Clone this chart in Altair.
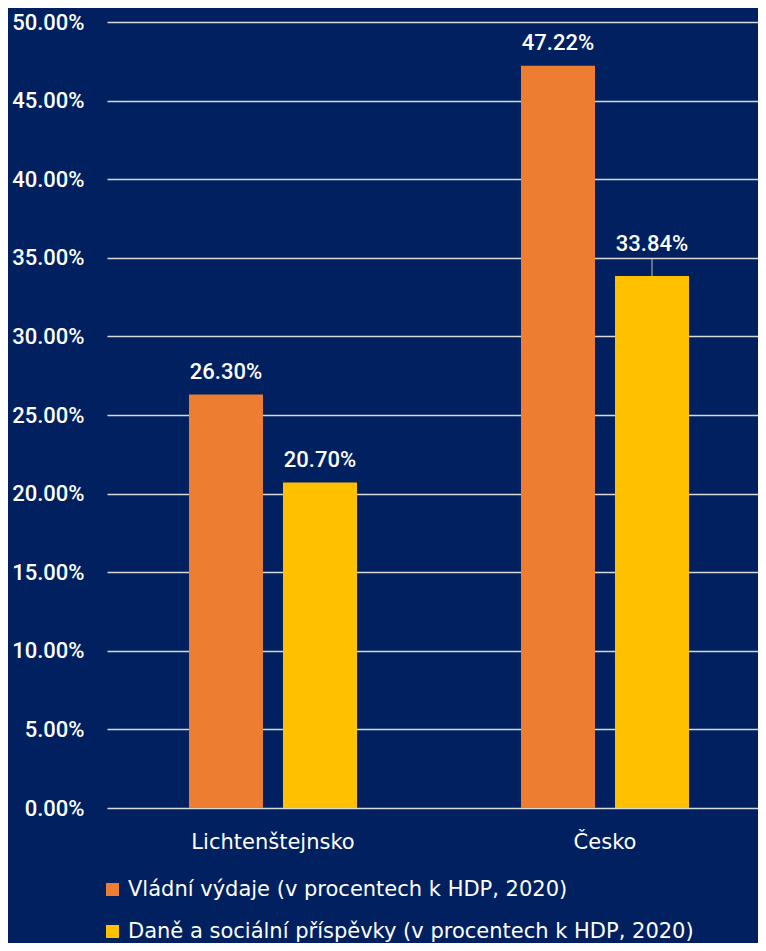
import altair as alt
import pandas as pd

countries = ["Lichtenštejnsko", "Česko"]
series = [
    "Vládní výdaje (v procentech k HDP, 2020)",
    "Daně a sociální příspěvky (v procentech k HDP, 2020)",
]
vydaje = [0.2630, 0.4722]
dane = [0.2070, 0.3384]
colors = ["#ED7D31", "#FFC000"]
y_ticks = [0, 0.05, 0.10, 0.15, 0.20, 0.25, 0.30, 0.35, 0.40, 0.45, 0.50]

rows = []
for i, c in enumerate(countries):
    rows.append({"country": c, "series": series[0], "value": vydaje[i]})
    rows.append({"country": c, "series": series[1], "value": dane[i]})
df = pd.DataFrame(rows)

NUM_FONT = "Roboto"
TXT_FONT = "DejaVu Sans"
BG = "#002060"
W = 500

x = alt.X("country:N", sort=countries, title=None,
          scale=alt.Scale(paddingInner=0, paddingOuter=0, range=[0, 664]),
          axis=alt.Axis(labelAngle=0, labelFontSize=21, labelColor="white",
                        labelFont=TXT_FONT, ticks=False,
                        domain=False, labelPadding=23, labelBaseline="top",
                        grid=False))
xo = alt.XOffset("series:N", sort=series,
                 scale=alt.Scale(paddingInner=0.2128, paddingOuter=0.872))
y = alt.Y("value:Q", title=None,
          scale=alt.Scale(domain=[0, 0.5], nice=False),
          axis=alt.Axis(values=y_ticks, format=".2%", labelFontSize=22,
                        labelColor="white", labelFont=NUM_FONT,
                        labelFontWeight=W, ticks=False,
                        domain=False, labelPadding=23, grid=True,
                        gridColor="#D9D9D9", gridWidth=1.5))
color = alt.Color("series:N", sort=series,
                  scale=alt.Scale(domain=series, range=colors),
                  legend=alt.Legend(title=None, orient="none", legendX=-5,
                                    legendY=857, direction="vertical",
                                    symbolType="square", symbolSize=169,
                                    symbolStrokeWidth=0, labelFontSize=21,
                                    labelColor="white", labelFont=TXT_FONT,
                                    rowPadding=20, labelOffset=5, padding=0,
                                    labelLimit=700))

base = alt.Chart(df)
bars = base.mark_bar().encode(x=x, xOffset=xo, y=y, color=color)

is_leader = (alt.datum.country == countries[1]) & (alt.datum.series == series[1])

labels = base.mark_text(color="white", fontSize=22, font=NUM_FONT,
                        fontWeight=W, dy=-16, baseline="alphabetic").encode(
    x=x, xOffset=xo, y=y, text=alt.Text("value:Q", format=".2%")
).transform_filter(~is_leader)

labels_lead = base.mark_text(color="white", fontSize=22, font=NUM_FONT,
                             fontWeight=W, dy=-25,
                             baseline="alphabetic").encode(
    x=x, xOffset=xo, y=y, text=alt.Text("value:Q", format=".2%")
).transform_filter(is_leader)

leader = base.mark_rule(color="#A6A6A6", strokeWidth=1.2, y2Offset=-17).encode(
    x=x, xOffset=xo, y=y, y2="value:Q"
).transform_filter(is_leader)

chart = alt.layer(bars, leader, labels, labels_lead).properties(
    width=651, height=786,
    background=BG,
    padding={"left": 99, "top": 14, "right": 0, "bottom": 135},
    autosize=alt.AutoSizeParams(type="none"),
).configure_view(stroke=None)

chart.save("out.html", embed_options={"renderer": "svg", "actions": False})
